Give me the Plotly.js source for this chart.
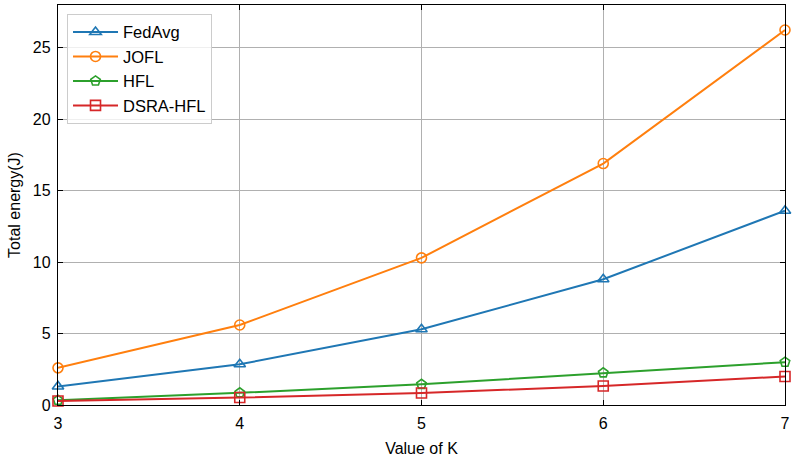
<!DOCTYPE html>
<html><head><meta charset="utf-8">
<script src="https://cdn.plot.ly/plotly-3.0.1.min.js"></script>
<style>html,body{margin:0;padding:0;background:#fff}</style>
</head><body><div id="chart" style="width:794px;height:460px"></div>
<script>
const kValues = [3, 4, 5, 6, 7];
const fedAvg = [1.3, 2.85, 5.3, 8.8, 13.6];
const jofl = [2.6, 5.6, 10.3, 16.9, 26.25];
const hfl = [0.33, 0.85, 1.45, 2.25, 3.0];
const dsraHfl = [0.28, 0.52, 0.84, 1.33, 2.0];
const seriesNames = ['FedAvg', 'JOFL', 'HFL', 'DSRA-HFL'];
const colors = ['#1f77b4', '#ff7f0e', '#2ca02c', '#d62728'];
const symbols = ['triangle-up-open', 'circle-open', 'pentagon-open', 'square-open'];
const yTicks = [0, 5, 10, 15, 20, 25];

const allY = [fedAvg, jofl, hfl, dsraHfl];
const traces = allY.map((ys, i) => ({
  x: kValues, y: ys, name: seriesNames[i], legendgroup: 'g' + i, type: 'scatter', mode: 'lines+markers',
  line: {color: colors[i], width: 2},
  marker: {symbol: symbols[i], size: 10, color: colors[i], line: {width: 1.6, color: colors[i]}},
  cliponaxis: false
}));

const fam = 'Liberation Sans, Arial, sans-serif';
const tickFont = {family: fam, size: 16, color: '#000'};
const titleFont = {family: fam, size: 16, color: '#000'};
const layout = {
  width: 794, height: 460,
  margin: {l: 58, r: 9, t: 5, b: 55},
  paper_bgcolor: '#fff', plot_bgcolor: '#fff',
  font: titleFont,
  showlegend: true,
  legend: {x: 0.0124, y: 0.978, xanchor: 'left', yanchor: 'top', bgcolor: 'rgba(255,255,255,0.8)',
    bordercolor: '#cccccc', borderwidth: 1, font: {family: fam, size: 16.5, color: '#000'},
    tracegroupgap: 0, itemwidth: 45},
  xaxis: {range: [3, 7], tickvals: kValues, showgrid: true, gridcolor: '#b0b0b0', gridwidth: 1,
    ticks: 'inside', ticklen: 5, tickcolor: '#000', mirror: 'allticks', showline: true, linecolor: '#000', linewidth: 1.2,
    zeroline: false, ticklabelstandoff: 4, title: {text: 'Value of K', font: titleFont, standoff: 11}, tickfont: tickFont},
  yaxis: {range: [0, 28], tickvals: yTicks, showgrid: true, gridcolor: '#b0b0b0', gridwidth: 1,
    ticks: 'inside', ticklen: 5, tickcolor: '#000', mirror: 'allticks', showline: true, linecolor: '#000', linewidth: 1.2,
    zeroline: false, ticklabelstandoff: 3, title: {text: 'Total energy(J)', font: titleFont, standoff: 8}, tickfont: tickFont}
};
Plotly.newPlot('chart', traces, layout, {displayModeBar: false, staticPlot: true});
</script></body></html>
